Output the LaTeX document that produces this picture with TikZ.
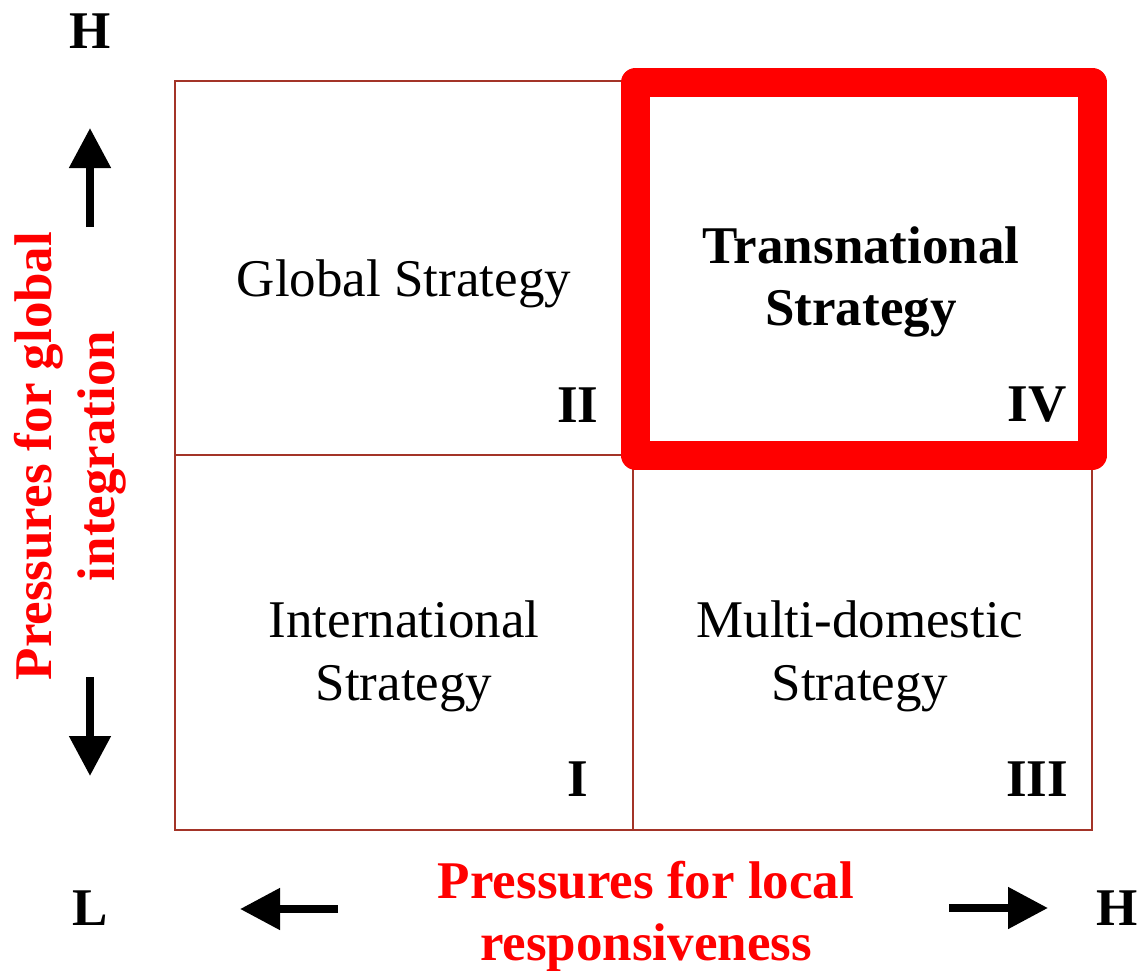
\documentclass[tikz,border=0pt]{standalone}
\usepackage{fontspec}
\setmainfont{Liberation Serif}
\usetikzlibrary{arrows.meta}
\definecolor{gridbrown}{RGB}{163,52,40}
\definecolor{hotred}{RGB}{255,0,0}
\begin{document}
\begin{tikzpicture}[x=1pt,y=-1pt,
  cell/.style={draw=gridbrown,line width=2.5pt,inner sep=0pt,outer sep=0pt},
  focus/.style={draw=hotred,line width=29pt,line join=round,inner sep=0pt,outer sep=0pt},
  txt/.style={font=\fontsize{53}{63}\selectfont,inner sep=0pt,anchor=base,align=center},
  btxt/.style={txt,font=\fontsize{53}{63}\selectfont\bfseries},
  axistxt/.style={btxt,text=hotred},
  bigarrow/.style={line width=8pt,-{Triangle[length=40pt,width=40pt]}},
]
\useasboundingbox (0,0) rectangle (1140,971);

% the four quadrants
\node[cell,minimum width=458pt,minimum height=374pt] (q2) at (404,268) {};
\node[cell,minimum width=458pt,minimum height=375pt] (q1) at (404,642.5) {};
\node[cell,minimum width=459pt,minimum height=375pt] (q3) at (862.5,642.5) {};
\node[focus,minimum width=457pt,minimum height=372.5pt] (q4) at (864,268.75) {};

% quadrant texts
\node[txt] (t2) at (404,296) {Global Strategy};
\node[btxt] (t4a) at (861,263) {Transnational};
\node[btxt] (t4b) at (861,325) {Strategy};
\node[txt] (t1a) at (404,637) {International};
\node[txt] (t1b) at (404,700) {Strategy};
\node[txt] (t3a) at (860,637) {Multi-domestic};
\node[txt] (t3b) at (860,700) {Strategy};

% quadrant numerals
\node[btxt] (n2) at (578,422) {II};
\node[btxt] (n4) at (1037,421) {IV};
\node[btxt] (n1) at (578,796) {I};
\node[btxt] (n3) at (1037,796) {III};

% axis ends
\node[btxt] (hy) at (90,49) {H};
\node[btxt] (lx) at (90,925) {L};
\node[btxt] (hx) at (1117,925) {H};

% axis titles
\node[axistxt] (ax1) at (646,898) {Pressures for local};
\node[axistxt] (ax2) at (646,960) {responsiveness};
\node[btxt,text=hotred,anchor=center,rotate=90] (ay) at (70,456)
  {Pressures for global\\integration};

% axis arrows
\coordinate (upS) at (90,227);
\coordinate (upT) at (90,128);
\coordinate (dnS) at (90,677);
\coordinate (dnT) at (90,776);
\coordinate (lfS) at (338,909);
\coordinate (lfT) at (240,909);
\coordinate (rtS) at (949,908);
\coordinate (rtT) at (1048,908);
\draw[bigarrow] (upS) -- (upT);
\draw[bigarrow] (dnS) -- (dnT);
\draw[bigarrow] (lfS) -- (lfT);
\draw[bigarrow] (rtS) -- (rtT);
\end{tikzpicture}
\end{document}
